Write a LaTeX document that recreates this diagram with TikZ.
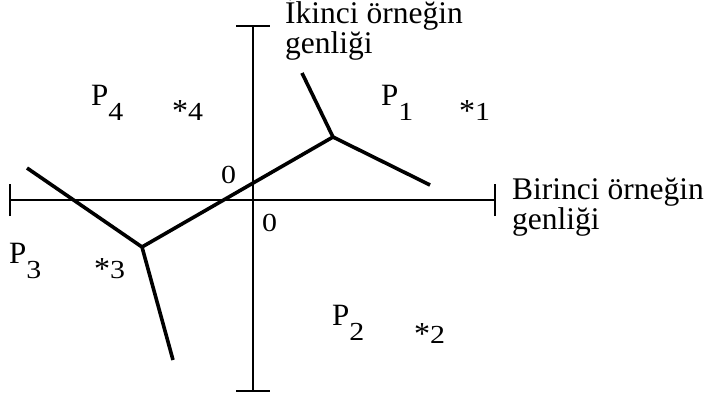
\documentclass[tikz,border=0pt]{standalone}
\usepackage{fontspec}
\setmainfont{Liberation Serif}
\newcommand{\widedigit}[1]{\scalebox{1.15}[1]{#1}}
\newcommand{\subdigit}[1]{\raisebox{-15pt}{\fontsize{26}{26}\selectfont\widedigit{#1}}}
\newcommand{\bigstar}{\raisebox{-1.5pt}{\fontsize{32}{32}\selectfont *}}
\begin{document}
\begin{tikzpicture}[x=1pt,y=-1pt,
  axisline/.style={line width=2.4pt},
  border/.style={line width=3.6pt},
  lbl/.style={inner sep=0pt,anchor=base west,align=left,font=\fontsize{31.5}{27}\selectfont},
  plbl/.style={inner sep=0pt,anchor=base west,font=\fontsize{31}{31}\selectfont},
  slbl/.style={inner sep=0pt,anchor=base west,font=\fontsize{26}{26}\selectfont}]
\useasboundingbox (0,0) rectangle (707,399);
% axes
\coordinate (vt) at (253,26);
\coordinate (vb) at (253,391);
\coordinate (hl) at (10,200);
\coordinate (hr) at (495,200);
\draw[axisline] (vt) -- (vb);
\draw[axisline] ([xshift=-17pt]vt) -- ([xshift=17pt]vt);
\draw[axisline] ([xshift=-17pt]vb) -- ([xshift=17pt]vb);
\draw[axisline] (hl) -- (hr);
\draw[axisline] ([yshift=-16pt]hl) -- ([yshift=16pt]hl);
\draw[axisline] ([yshift=-16pt]hr) -- ([yshift=16pt]hr);
% boundaries
\coordinate (j1) at (333,137);
\coordinate (j2) at (142,247);
\coordinate (e1) at (302,73);
\coordinate (e2) at (430,185);
\coordinate (e3) at (27,168);
\coordinate (e4) at (173,360);
\draw[border] (e1) -- (j1) -- (e2);
\draw[border] (j1) -- (j2);
\draw[border] (e3) -- (j2) -- (e4);
% axis labels (anchor is the baseline of the last line)
\node[lbl] (ya) at (285,53) {İkinci örneğin\\genliği};
\node[lbl] (xa) at (512,229) {Birinci örneğin\\genliği};
% zeros
\node[slbl] (z1) at (221,183) {\widedigit{0}};
\node[slbl] (z2) at (262,231) {\widedigit{0}};
% region labels
\node[plbl] (p4) at (91,105) {P\subdigit{4}};
\node[plbl] (p1) at (381,105) {P\subdigit{1}};
\node[plbl] (p3) at (9,263) {P\subdigit{3}};
\node[plbl] (p2) at (332,325) {P\subdigit{2}};
% sample points
\node[slbl] (s4) at (172,120) {\bigstar\widedigit{4}};
\node[slbl] (s1) at (459,120) {\bigstar\widedigit{1}};
\node[slbl] (s3) at (94,278) {\bigstar\widedigit{3}};
\node[slbl] (s2) at (414,343) {\bigstar\widedigit{2}};
\end{tikzpicture}
\end{document}
